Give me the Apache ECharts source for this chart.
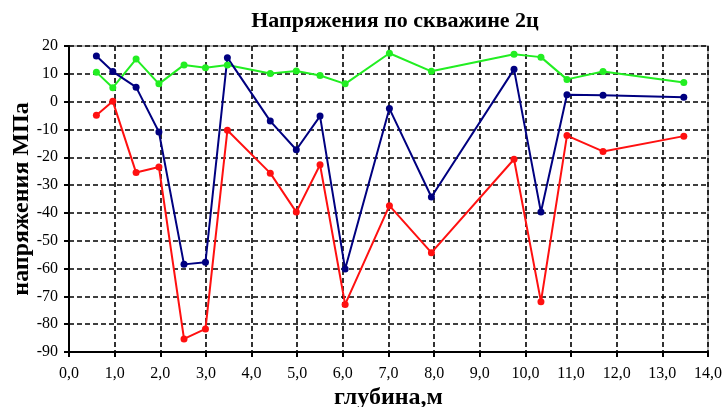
<!DOCTYPE html>
<html><head><meta charset="utf-8">
<script src="https://cdn.jsdelivr.net/npm/echarts@6/dist/echarts.min.js"></script>
<style>html,body{margin:0;padding:0;background:#fff}#c{width:724px;height:407px}</style>
</head><body><div id="c"></div>
<script>
const depths = [0.6, 0.96, 1.47, 1.97, 2.52, 2.99, 3.47, 4.41, 4.98, 5.50, 6.05, 7.02, 7.94, 9.75, 10.34, 10.91, 11.70, 13.47];
const greenVals = [10.6, 5.0, 15.3, 6.4, 13.2, 12.2, 13.2, 10.1, 11.0, 9.4, 6.4, 17.4, 10.9, 17.0, 16.0, 8.0, 10.8, 6.9];
const navyVals = [16.4, 10.8, 5.2, -10.9, -58.5, -57.7, 15.8, -7.0, -17.3, -5.2, -60.2, -2.5, -34.3, 11.6, -39.7, 2.5, 2.3, 1.6];
const redVals = [-4.9, 0.1, -25.5, -23.5, -85.3, -81.7, -10.3, -25.7, -39.7, -22.7, -72.9, -37.4, -54.3, -20.7, -71.9, -12.2, -17.9, -12.4];
const yTicks = [20, 10, 0, -10, -20, -30, -40, -50, -60, -70, -80, -90];

const pair = vals => depths.map((d, i) => [d, vals[i]]);
const serif = '"Liberation Serif", "DejaVu Serif", serif';
const mk = (name, color, vals) => ({
  name, type: 'line', data: pair(vals), symbol: 'circle', symbolSize: 7,
  lineStyle: { color, width: 2 }, itemStyle: { color }, z: 5
});

const chart = echarts.init(document.getElementById('c'), null, { renderer: 'canvas' });
chart.setOption({
  animation: false,
  backgroundColor: '#fff',
  title: {
    text: 'Напряжения по скважине 2ц', left: 390, top: 5, textAlign: 'center',
    textStyle: { fontFamily: serif, fontWeight: 'bold', fontSize: 22, color: '#000' }
  },
  grid: { left: 69, right: 16, top: 46, bottom: 55, containLabel: false, outerBoundsMode: 'none',
    show: true, borderColor: '#999', borderWidth: 1.5 },
  xAxis: {
    type: 'value', min: 0, max: 14, interval: 1,
    name: 'глубина,м', nameLocation: 'middle', nameGap: 46, nameMoveOverlap: false,
    nameTextStyle: { fontFamily: serif, fontWeight: 'bold', fontSize: 24, color: '#000', verticalAlign: 'middle' },
    axisLine: { show: true, onZero: false, lineStyle: { color: '#000', width: 2 } },
    axisTick: { show: true, length: 5, lineStyle: { color: '#000', width: 2 } },
    axisLabel: { fontFamily: serif, fontSize: 16, color: '#000', margin: 14,
      formatter: v => v.toFixed(1).replace('.', ',') },
    splitLine: { show: true, lineStyle: { color: '#000', width: 1.6, type: [5, 3] } }
  },
  yAxis: {
    type: 'value', min: -90, max: 20, interval: 10,
    name: 'напряжения МПа', nameLocation: 'middle', nameGap: 47, nameMoveOverlap: false,
    nameTextStyle: { fontFamily: serif, fontWeight: 'bold', fontSize: 24, color: '#000', verticalAlign: 'middle' },
    axisLine: { show: true, onZero: false, lineStyle: { color: '#000', width: 2 } },
    axisTick: { show: true, length: 5, lineStyle: { color: '#000', width: 2 } },
    axisLabel: { fontFamily: serif, fontSize: 16, color: '#000', margin: 11,
      formatter: v => String(v) },
    splitLine: { show: true, lineStyle: { color: '#000', width: 1.6, type: [5, 3] } }
  },
  series: [
    mk('green', '#22ee22', greenVals),
    mk('navy', '#000080', navyVals),
    mk('red', '#ff1010', redVals)
  ]
});
</script></body></html>
